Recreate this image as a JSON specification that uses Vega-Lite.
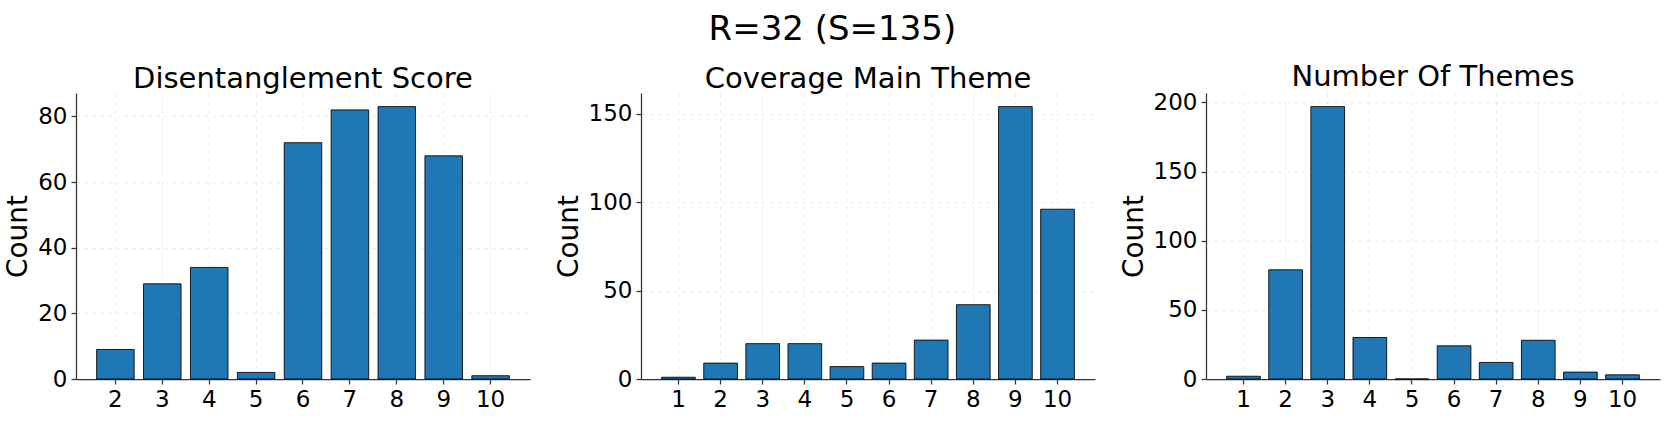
{
  "$schema": "https://vega.github.io/schema/vega-lite/v6.json",
  "padding": {"left": 4, "top": 13, "right": 5, "bottom": 5},
  "background": "white",
  "title": {"text": "R=32 (S=135)", "fontSize": 34, "font": "DejaVu Sans", "fontWeight": "normal", "anchor": "middle", "offset": 16, "color": "black"},
  "spacing": 25,
  "config": {
    "font": "DejaVu Sans",
    "view": {"stroke": null},
    "title": {"fontSize": 29, "fontWeight": "normal", "color": "black", "font": "DejaVu Sans", "offset": -1},
    "axis": {
      "grid": true,
      "gridDash": [4, 4],
      "gridColor": "#b0b0b0",
      "gridOpacity": 0.3,
      "gridWidth": 0.8,
      "domainColor": "#333333",
      "domainWidth": 1.25,
      "tickColor": "#333333",
      "tickWidth": 1.25,
      "tickSize": 5,
      "labelFontSize": 23,
      "labelColor": "black",
      "labelFont": "DejaVu Sans",
      "labelPadding": 4,
      "titleFontSize": 28,
      "titleFontWeight": "normal",
      "titleColor": "black",
      "titleFont": "DejaVu Sans",
      "titlePadding": 5
    },
    "axisX": {"labelAngle": 0, "bandPosition": 0.5},
    "bar": {"color": "#1f77b4", "stroke": "black", "strokeWidth": 1, "strokeOpacity": 0.85}
  },
  "datasets": {
    "dis": [
      {"score": 2, "count": 9}, {"score": 3, "count": 29}, {"score": 4, "count": 34},
      {"score": 5, "count": 2}, {"score": 6, "count": 72}, {"score": 7, "count": 82},
      {"score": 8, "count": 83}, {"score": 9, "count": 68}, {"score": 10, "count": 1}
    ],
    "cov": [
      {"score": 1, "count": 1}, {"score": 2, "count": 9}, {"score": 3, "count": 20},
      {"score": 4, "count": 20}, {"score": 5, "count": 7}, {"score": 6, "count": 9},
      {"score": 7, "count": 22}, {"score": 8, "count": 42}, {"score": 9, "count": 154},
      {"score": 10, "count": 96}
    ],
    "num": [
      {"score": 1, "count": 2}, {"score": 2, "count": 79}, {"score": 3, "count": 197},
      {"score": 4, "count": 30}, {"score": 5, "count": 0}, {"score": 6, "count": 24},
      {"score": 7, "count": 12}, {"score": 8, "count": 28}, {"score": 9, "count": 5},
      {"score": 10, "count": 3}
    ]
  },
  "hconcat": [
    {
      "title": "Disentanglement Score",
      "width": 454, "height": 286,
      "data": {"name": "dis"},
      "mark": "bar",
      "encoding": {
        "x": {"field": "score", "type": "ordinal", "sort": null, "title": null,
              "scale": {"type": "band", "paddingInner": 0.2, "paddingOuter": 0.44}},
        "y": {"field": "count", "type": "quantitative", "title": "Count",
              "scale": {"domain": [0, 87.15], "nice": false, "zero": true},
              "axis": {"values": [0, 20, 40, 60, 80]}}
      }
    },
    {
      "title": "Coverage Main Theme",
      "width": 454, "height": 286,
      "data": {"name": "cov"},
      "mark": "bar",
      "encoding": {
        "x": {"field": "score", "type": "ordinal", "sort": null, "title": null,
              "scale": {"type": "band", "paddingInner": 0.2, "paddingOuter": 0.49}},
        "y": {"field": "count", "type": "quantitative", "title": "Count",
              "scale": {"domain": [0, 161.7], "nice": false, "zero": true},
              "axis": {"values": [0, 50, 100, 150]}}
      }
    },
    {
      "title": "Number Of Themes",
      "width": 454, "height": 286,
      "data": {"name": "num"},
      "mark": "bar",
      "encoding": {
        "x": {"field": "score", "type": "ordinal", "sort": null, "title": null,
              "scale": {"type": "band", "paddingInner": 0.2, "paddingOuter": 0.49}},
        "y": {"field": "count", "type": "quantitative", "title": "Count",
              "scale": {"domain": [0, 206.85], "nice": false, "zero": true},
              "axis": {"values": [0, 50, 100, 150, 200]}}
      }
    }
  ]
}
